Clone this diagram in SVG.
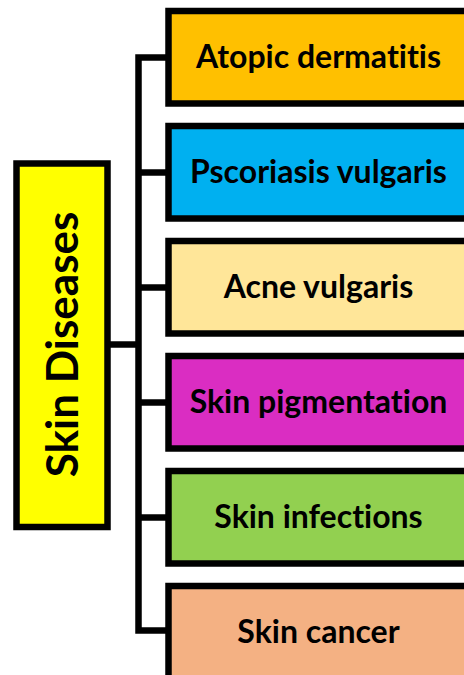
<svg xmlns="http://www.w3.org/2000/svg" width="464" height="675" viewBox="0 0 464 675">
<style>
.box{stroke:#000;stroke-width:6.5}
.lbl{font-family:Lato,"Liberation Sans",sans-serif;font-weight:700;font-size:32px;fill:#000;text-anchor:middle;font-variant-ligatures:none;font-feature-settings:"liga" 0}
.con{fill:none;stroke:#000;stroke-width:6.5;stroke-linecap:butt}
</style>
<rect width="464" height="675" fill="#fff"/>
<g id="connectors">
<path class="con" d="M110,344.5 H138.5"/>
<path class="con" d="M168,57.5 H138.5 V630.5 H168"/>
<path class="con" d="M138.5,172.5 H168"/>
<path class="con" d="M138.5,287.5 H168"/>
<path class="con" d="M138.5,402.5 H168"/>
<path class="con" d="M138.5,517.5 H168"/>
</g>
<g id="skin-diseases">
<rect class="box" x="16.5" y="163.5" width="91" height="363.5" fill="#FFFF00"/>
<text class="lbl" transform="translate(78,344.5) rotate(-90)" style="font-size:44px">Skin Diseases</text>
</g>
<g id="atopic-dermatitis">
<rect class="box" x="168.5" y="11" width="310" height="92.5" fill="#FFC000"/>
<text class="lbl" x="318.5" y="67.5">Atopic dermatitis</text>
</g>
<g id="pscoriasis-vulgaris">
<rect class="box" x="168.5" y="126" width="310" height="92.5" fill="#00B0F0"/>
<text class="lbl" x="318.5" y="182.5">Pscoriasis vulgaris</text>
</g>
<g id="acne-vulgaris">
<rect class="box" x="168.5" y="241" width="310" height="92.5" fill="#FFE699"/>
<text class="lbl" x="318.5" y="297.5">Acne vulgaris</text>
</g>
<g id="skin-pigmentation">
<rect class="box" x="168.5" y="356" width="310" height="92.5" fill="#DA2DC2"/>
<text class="lbl" x="318.5" y="412.5">Skin pigmentation</text>
</g>
<g id="skin-infections">
<rect class="box" x="168.5" y="471" width="310" height="92.5" fill="#92D050"/>
<text class="lbl" x="318.5" y="527.5">Skin infections</text>
</g>
<g id="skin-cancer">
<rect class="box" x="168.5" y="586" width="310" height="92.5" fill="#F4B183"/>
<text class="lbl" x="318.5" y="642.5">Skin cancer</text>
</g>
</svg>
